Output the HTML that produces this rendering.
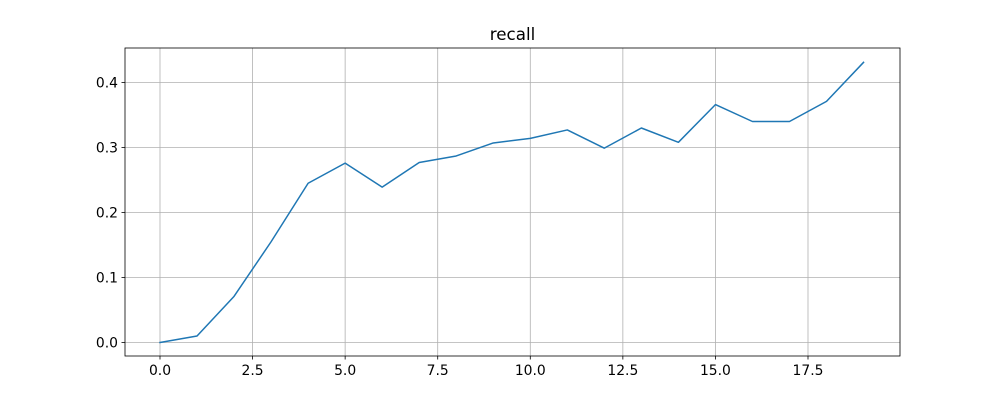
<!DOCTYPE html>
<html><head><meta charset="utf-8"><style>
body{margin:0;background:#fff;}
svg{display:block;font-family:"DejaVu Sans","Liberation Sans",sans-serif;}
</style></head><body>
<svg id="chart" width="1000" height="400" viewBox="0 0 1000 400"></svg>
<script>
const xValues=[0,1,2,3,4,5,6,7,8,9,10,11,12,13,14,15,16,17,18,19];
const recallValues=[0.0,0.01,0.071,0.155,0.245,0.276,0.239,0.277,0.287,0.307,0.314,0.327,0.299,0.330,0.308,0.366,0.340,0.340,0.371,0.431];
const xTicks=[0,2.5,5,7.5,10,12.5,15,17.5];
const xTickLabels=["0.0","2.5","5.0","7.5","10.0","12.5","15.0","17.5"];
const yTicks=[0,0.1,0.2,0.3,0.4];
const yTickLabels=["0.0","0.1","0.2","0.3","0.4"];
const L=125,R=900,T=48,B=356;
const X=v=>160+v*(808-160)/17.5;
const Y=v=>342.5-v*650;
const svg=document.getElementById('chart');
const NS='http://www.w3.org/2000/svg';
function mk(tag,attrs,parent){const e=document.createElementNS(NS,tag);for(const k in attrs)e.setAttribute(k,attrs[k]);(parent||svg).appendChild(e);return e;}
xTicks.forEach((t,i)=>{
 const g=mk('line',{x1:X(t),x2:X(t),y1:T,y2:B,stroke:'#b0b0b0','stroke-width':0.8});
 
 
 mk('line',{x1:X(t),x2:X(t),y1:B,y2:B+3.5,stroke:'#000','stroke-width':0.8});
 const tx=mk('text',{x:X(t),y:B+19,'text-anchor':'middle','font-size':13.9});
 tx.textContent=xTickLabels[i];
 
 
});
yTicks.forEach((t,i)=>{
 const g=mk('line',{x1:L,x2:R,y1:Y(t),y2:Y(t),stroke:'#b0b0b0','stroke-width':0.8});
 
 
 mk('line',{x1:L-3.5,x2:L,y1:Y(t),y2:Y(t),stroke:'#000','stroke-width':0.8});
 const tx=mk('text',{x:L-7,y:Y(t)+5,'text-anchor':'end','font-size':13.9});
 tx.textContent=yTickLabels[i];
 
 
});
const pts=xValues.map((x,i)=>X(x)+','+Y(recallValues[i])).join(' ');
const line=mk('polyline',{points:pts,fill:'none',stroke:'#1f77b4','stroke-width':1.5,'stroke-linejoin':'round','stroke-linecap':'square'});


const frame=mk('rect',{x:L,y:T,width:R-L,height:B-T,fill:'none',stroke:'#000','stroke-width':0.8});


const title=mk('text',{x:(L+R)/2,y:40,'text-anchor':'middle','font-size':16.7});
title.textContent='recall';


</script>
</body></html>
